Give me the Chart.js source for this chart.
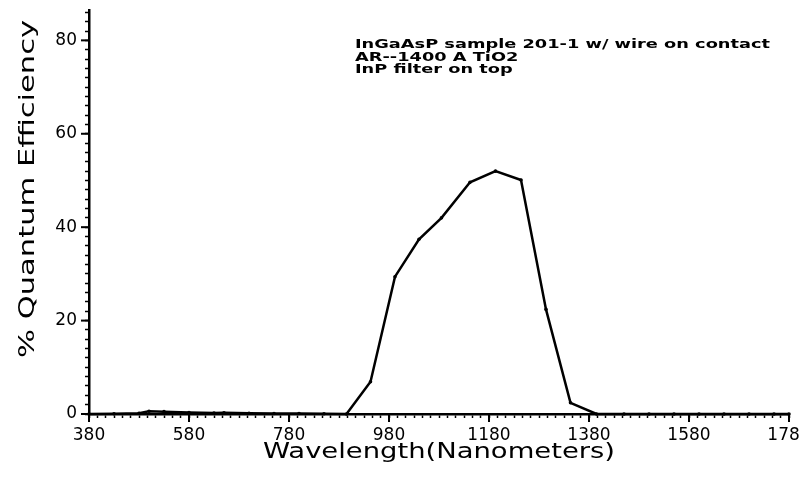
<!DOCTYPE html>
<html><head><meta charset="utf-8">
<script src="https://cdn.jsdelivr.net/npm/chart.js@4.4.1/dist/chart.umd.min.js"></script>
<style>html,body{margin:0;padding:0;background:#fff;overflow:hidden}#wrap{width:800px;height:479px;position:relative}</style>
</head><body><div id="wrap"><canvas id="c"></canvas></div>
<script>
// ---- data ----
const wavelengths = [380, 430, 480, 500, 530, 580, 630, 650, 700, 750, 800, 850, 895, 943, 992, 1040, 1085, 1142, 1193, 1244, 1294, 1343, 1395, 1450, 1500, 1550, 1600, 1650, 1700, 1750, 1780];
const efficiency  = [0, 0.05, 0.15, 0.6, 0.5, 0.3, 0.2, 0.25, 0.15, 0.1, 0.1, 0.05, 0, 6.9, 29.4, 37.4, 42.0, 49.6, 52.0, 50.1, 22.4, 2.4, 0, 0, 0, 0, 0, 0, 0, 0, 0];
const xTickLabels = [380, 580, 780, 980, 1180, 1380, 1580, 1780];
const yTickLabels = [0, 20, 40, 60, 80];
const notes = ["InGaAsP sample 201-1 w/ wire on contact", "AR--1400 A TiO2", "InP filter on top"];
const xTitle = "Wavelength(Nanometers)";
const yTitle = "% Quantum Efficiency";

const X_MIN = 380, X_MAX = 1780, X_MINOR = 200 / 12;
const Y_MIN = 0, Y_MAX = 86.5, Y_MINOR = 2;

function stretchText(ctx, text, x, y, sx) {
  ctx.save();
  ctx.translate(x, y);
  ctx.scale(sx, 1);
  ctx.fillText(text, 0, 0);
  ctx.restore();
}

const decor = {
  id: 'decor',
  afterDraw(chart) {
    const ctx = chart.ctx;
    const xs = chart.scales.x, ys = chart.scales.y;
    const area = chart.chartArea;
    ctx.save();
    ctx.strokeStyle = '#000';
    ctx.lineWidth = 2;
    // longer major ticks
    xTickLabels.forEach(v => {
      const px = xs.getPixelForValue(v);
      ctx.beginPath(); ctx.moveTo(px, area.bottom); ctx.lineTo(px, area.bottom + 8); ctx.stroke();
    });
    yTickLabels.forEach(v => {
      const py = ys.getPixelForValue(v);
      ctx.beginPath(); ctx.moveTo(area.left, py); ctx.lineTo(area.left - 8, py); ctx.stroke();
    });
    ctx.fillStyle = '#000';
    ctx.textBaseline = 'alphabetic';
    // annotation block
    ctx.font = 'bold 12.5px "DejaVu Sans"';
    ctx.textAlign = 'left';
    const sxn = 415 / ctx.measureText(notes[0]).width;
    const baselines = [48, 61, 73];
    notes.forEach((t, i) => stretchText(ctx, t, 355, baselines[i], sxn));
    // x title
    ctx.font = '21px "DejaVu Sans"';
    ctx.textAlign = 'center';
    const sxx = 352 / ctx.measureText(xTitle).width;
    stretchText(ctx, xTitle, 439, 458, sxx);
    // y title
    const syy = 338 / ctx.measureText(yTitle).width;
    ctx.save();
    ctx.translate(33.5, 189);
    ctx.rotate(-Math.PI / 2);
    ctx.scale(syy, 1);
    ctx.fillText(yTitle, 0, 0);
    ctx.restore();
    ctx.restore();
  }
};

new Chart(document.getElementById('c'), {
  type: 'line',
  data: {
    datasets: [{
      data: wavelengths.map((w, i) => ({ x: w, y: efficiency[i] })),
      borderColor: '#000',
      backgroundColor: '#000',
      borderWidth: 2.5,
      pointRadius: 1.8,
      pointBackgroundColor: '#000',
      pointBorderWidth: 0,
      tension: 0,
      clip: 4
    }]
  },
  options: {
    responsive: true,
    maintainAspectRatio: false,
    animation: false,
    layout: { padding: { left: 0, right: 11, top: 10, bottom: 0 } },
    plugins: { legend: { display: false }, tooltip: { enabled: false }, title: { display: false } },
    scales: {
      x: {
        type: 'linear',
        min: X_MIN, max: X_MAX,
        afterBuildTicks(s) {
          const t = [];
          for (let i = 0; i <= Math.round((X_MAX - X_MIN) / X_MINOR); i++) t.push({ value: X_MIN + i * X_MINOR });
          s.ticks = t;
        },
        afterFit(s) { s.height = 65; s.paddingLeft = 0; s.paddingRight = 0; },
        ticks: {
          autoSkip: false, maxRotation: 0, minRotation: 0,
          padding: 7,
          color: '#000',
          font: { family: 'DejaVu Sans', size: 17 },
          callback(v) {
            const m = xTickLabels.find(l => Math.abs(l - v) < 0.01);
            return m !== undefined ? String(m) : '';
          }
        },
        grid: { drawOnChartArea: false, drawTicks: true, tickLength: 4, tickColor: '#000', tickWidth: 1.5 },
        border: { display: true, color: '#000', width: 2.5 }
      },
      y: {
        type: 'linear',
        min: Y_MIN, max: Y_MAX,
        afterBuildTicks(s) {
          const t = [];
          for (let v = Y_MIN; v <= Y_MAX; v += Y_MINOR) t.push({ value: v });
          s.ticks = t;
        },
        afterFit(s) { s.width = 89; s.paddingTop = 0; s.paddingBottom = 0; },
        ticks: {
          autoSkip: false,
          padding: 8,
          color: '#000',
          font: { family: 'DejaVu Sans', size: 17 },
          callback(v) {
            const m = yTickLabels.find(l => Math.abs(l - v) < 0.01);
            return m !== undefined ? String(m) : '';
          }
        },
        grid: { drawOnChartArea: false, drawTicks: true, tickLength: 4, tickColor: '#000', tickWidth: 1.5 },
        border: { display: true, color: '#000', width: 2.5 }
      }
    }
  },
  plugins: [decor]
});
</script>
</body></html>
